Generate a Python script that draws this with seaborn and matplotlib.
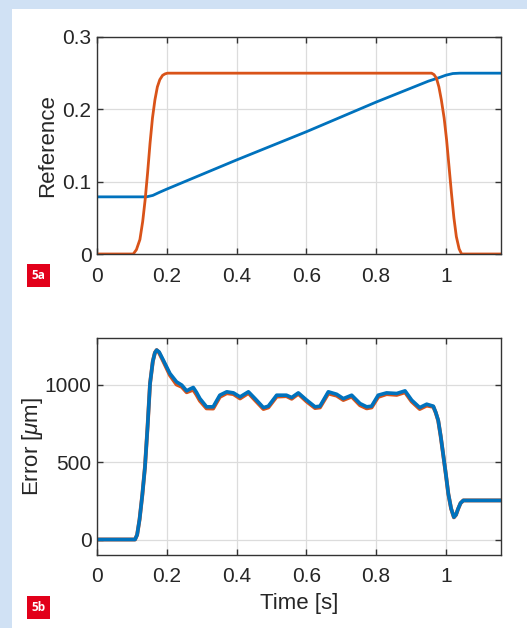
import numpy as np
import pandas as pd
import seaborn as sns
import matplotlib
matplotlib.use("Agg")
import matplotlib.pyplot as plt
from matplotlib.patches import Rectangle

# ---------------- data ----------------
ref_orange_t = [0.0, 0.104, 0.113, 0.123, 0.131, 0.138, 0.145, 0.152, 0.159, 0.166, 0.173,
                0.180, 0.188, 0.195, 0.202, 0.959, 0.966, 0.973, 0.980, 0.987, 0.995,
                1.002, 1.009, 1.016, 1.023, 1.030, 1.038, 1.045, 1.16]
ref_orange_v = [0.0, 0.0, 0.006, 0.020, 0.045, 0.075, 0.112, 0.153, 0.188, 0.213, 0.231,
                0.241, 0.247, 0.249, 0.25, 0.25, 0.248, 0.243, 0.231, 0.213, 0.188,
                0.158, 0.121, 0.084, 0.050, 0.024, 0.007, 0.0, 0.0]

ref_blue_t = [0.0, 0.142, 0.16, 0.18, 0.2, 0.4, 0.6, 0.8, 0.95, 0.98, 1.0, 1.02, 1.04, 1.16]
ref_blue_v = [0.079, 0.079, 0.081, 0.0855, 0.0897, 0.130, 0.169, 0.210, 0.239, 0.2437,
              0.2472, 0.2495, 0.25, 0.25]

err_t = [0.0, 0.109, 0.115, 0.122, 0.13, 0.1375, 0.145, 0.152, 0.16, 0.166, 0.171, 0.178,
         0.19, 0.209, 0.228, 0.243, 0.257, 0.266, 0.276, 0.285, 0.295, 0.314, 0.333, 0.352,
         0.372, 0.391, 0.41, 0.434, 0.453, 0.477, 0.491, 0.515, 0.543, 0.558, 0.577, 0.601,
         0.625, 0.639, 0.663, 0.687, 0.706, 0.73, 0.754, 0.773, 0.787, 0.806, 0.83, 0.859,
         0.883, 0.902, 0.925, 0.945, 0.964, 0.971, 0.978, 0.985, 0.992, 1.0, 1.007, 1.015,
         1.023, 1.029, 1.035, 1.042, 1.05, 1.16]
err_blue = [0, 0, 30, 130, 290, 468, 730, 1006, 1150, 1205, 1222, 1210,
            1157, 1071, 1017, 996, 959, 970, 981, 950, 909, 856, 856, 931,
            953, 946, 920, 953, 909, 851, 860, 931, 931, 916, 946, 899,
            856, 860, 953, 937, 909, 931, 877, 856, 860, 931, 946, 942,
            959, 899, 851, 873, 860, 820, 769, 670, 554, 420, 295, 200,
            144, 160, 198, 235, 252, 252]
err_orange = [0, 0, 30, 130, 290, 468, 730, 1006, 1150, 1205, 1222, 1205,
              1150, 1060, 1000, 985, 950, 958, 966, 935, 895, 846, 845, 920,
              944, 938, 910, 945, 899, 842, 852, 922, 925, 908, 940, 890,
              848, 852, 942, 928, 900, 922, 866, 846, 852, 920, 938, 933,
              950, 890, 842, 864, 856, 818, 767, 668, 553, 419, 294, 199,
              143, 159, 197, 234, 252, 252]

xticks = [0, 0.2, 0.4, 0.6, 0.8, 1.0]
xticklabels = ["0", "0.2", "0.4", "0.6", "0.8", "1"]
top_yticks = [0, 0.1, 0.2, 0.3]
top_yticklabels = ["0", "0.1", "0.2", "0.3"]
bot_yticks = [0, 500, 1000]
bot_yticklabels = ["0", "500", "1000"]

BLUE = "#0072BD"
ORANGE = "#D95319"
FRAME = "#d0e1f4"
RED = "#e2001a"

sns.set_theme(style="white")
plt.rcParams["font.family"] = ["Liberation Sans", "DejaVu Sans"]
plt.rcParams["mathtext.fontset"] = "custom"
plt.rcParams["mathtext.it"] = "Liberation Sans:italic"
plt.rcParams["mathtext.rm"] = "Liberation Sans"

fig = plt.figure(figsize=(5.27, 6.28), dpi=100)
fig.patch.set_facecolor(FRAME)
fig.patches.append(Rectangle((12 / 527, 0), 1 - 12 / 527, 1 - 9 / 628,
                             transform=fig.transFigure, facecolor="white",
                             edgecolor="none", zorder=-10))

ax1 = fig.add_axes([97 / 527, 1 - 254 / 628, 404 / 527, 217 / 628])
ax2 = fig.add_axes([97 / 527, 1 - 555 / 628, 404 / 527, 217 / 628])

df_ro = pd.DataFrame({"t": ref_orange_t, "v": ref_orange_v})
df_rb = pd.DataFrame({"t": ref_blue_t, "v": ref_blue_v})
sns.lineplot(data=df_rb, x="t", y="v", ax=ax1, color=BLUE, lw=2.0, sort=False)
sns.lineplot(data=df_ro, x="t", y="v", ax=ax1, color=ORANGE, lw=2.0, sort=False)

df_eo = pd.DataFrame({"t": err_t, "v": err_orange})
df_eb = pd.DataFrame({"t": err_t, "v": err_blue})
sns.lineplot(data=df_eo, x="t", y="v", ax=ax2, color=ORANGE, lw=2.8, sort=False)
sns.lineplot(data=df_eb, x="t", y="v", ax=ax2, color=BLUE, lw=2.6, sort=False)

for ax in (ax1, ax2):
    ax.set_facecolor("white")
    ax.set_xlim(0, 1.158)
    ax.set_xticks(xticks)
    ax.set_xticklabels(xticklabels)
    ax.grid(True, color="#dcdcdc", lw=0.9)
    ax.set_axisbelow(True)
    for s in ax.spines.values():
        s.set_color("#333333")
        s.set_linewidth(1.0)
    ax.tick_params(direction="in", length=4, width=1.0, color="#333333",
                   top=True, right=True, bottom=True, left=True,
                   labelsize=15, labelcolor="#262626")
    ax.tick_params(axis="x", pad=9)
    ax.tick_params(axis="y", pad=4)
    ax.set_xlabel("")

ax1.set_ylim(0, 0.3)
ax1.set_yticks(top_yticks)
ax1.set_yticklabels(top_yticklabels)
ax1.set_ylabel("Reference", fontsize=16, color="#262626", labelpad=3)

ax2.set_ylim(-100, 1300)
ax2.set_yticks(bot_yticks)
ax2.set_yticklabels(bot_yticklabels)
ax2.set_ylabel(r"Error [$\mu$m]", fontsize=16, color="#262626", labelpad=0)
ax2.set_xlabel("Time [s]", fontsize=16, color="#262626", labelpad=5)

for label, ytop in (("5a", 264), ("5b", 596)):
    fig.patches.append(Rectangle((27 / 527, 1 - (ytop + 23) / 628), 23 / 527, 23 / 628,
                                 transform=fig.transFigure, facecolor=RED,
                                 edgecolor="none", zorder=2))
    fig.text(38.5 / 527, 1 - (ytop + 11.5) / 628, label, color="white",
             fontsize=8.5, fontweight="bold", ha="center", va="center", zorder=3,
             family=["Open Sans", "DejaVu Sans"])

fig.savefig("out.png", dpi=100, facecolor=fig.get_facecolor())
